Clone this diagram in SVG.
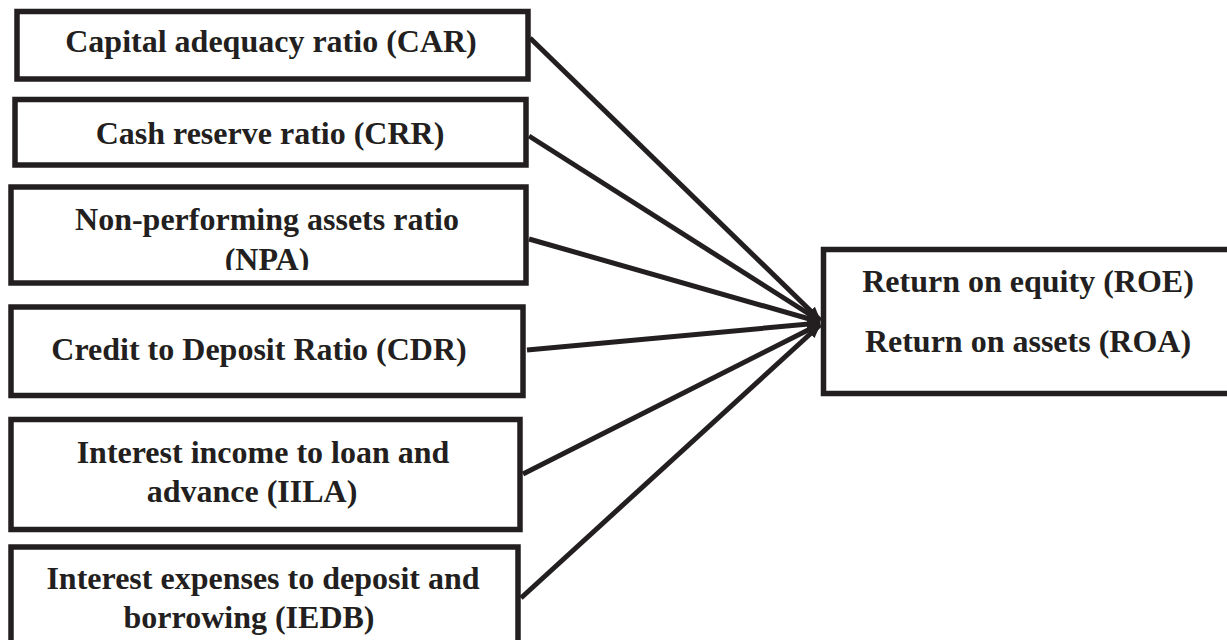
<svg xmlns="http://www.w3.org/2000/svg" width="1227" height="640" viewBox="0 0 1227 640">
  <style>
    .box { fill: #ffffff; stroke: #231f20; stroke-width: 5.5; }
    .lbl { font-family: "Liberation Serif", "Times New Roman", serif; font-weight: bold; font-size: 32px; fill: #231f20; text-anchor: middle; }
    .conn { stroke: #231f20; stroke-width: 5; fill: none; marker-end: url(#arrow); }
  </style>
  <defs>
    <marker id="arrow" markerUnits="userSpaceOnUse" markerWidth="14" markerHeight="12" refX="13" refY="6" orient="auto">
      <path d="M0,0 L14,6 L0,12 z" fill="#231f20"/>
    </marker>
    <clipPath id="clipNPA">
      <rect x="0" y="190" width="540" height="80"/>
    </clipPath>
  </defs>
  <rect width="1227" height="640" fill="#ffffff"/>

  <g id="connectors">
    <line class="conn" x1="530" y1="38" x2="820" y2="320"/>
    <line class="conn" x1="529" y1="136" x2="820" y2="321"/>
    <line class="conn" x1="529" y1="239" x2="820" y2="322"/>
    <line class="conn" x1="527" y1="350" x2="820" y2="323"/>
    <line class="conn" x1="523" y1="474" x2="820" y2="324"/>
    <line class="conn" x1="521" y1="598" x2="820" y2="325"/>
  </g>

  <g id="node-car">
    <rect class="box" x="17" y="11.5" width="511" height="67.5"/>
    <text class="lbl" x="271" y="52">Capital adequacy ratio (CAR)</text>
  </g>
  <g id="node-crr">
    <rect class="box" x="15" y="99.5" width="511" height="65.5"/>
    <text class="lbl" x="270" y="144">Cash reserve ratio (CRR)</text>
  </g>
  <g id="node-npa">
    <rect class="box" x="11" y="187" width="515" height="96"/>
    <g clip-path="url(#clipNPA)">
      <text class="lbl" x="267" y="230">Non-performing assets ratio</text>
      <text class="lbl" x="267" y="270">(NPA)</text>
    </g>
  </g>
  <g id="node-cdr">
    <rect class="box" x="11" y="307" width="512" height="88.5"/>
    <text class="lbl" x="259" y="360">Credit to Deposit Ratio (CDR)</text>
  </g>
  <g id="node-iila">
    <rect class="box" x="11" y="419.5" width="509" height="110"/>
    <text class="lbl" x="263" y="463">Interest income to loan and</text>
    <text class="lbl" x="252" y="502">advance (IILA)</text>
  </g>
  <g id="node-iedb">
    <rect class="box" x="11" y="547" width="507" height="120"/>
    <text class="lbl" x="263" y="589">Interest expenses to deposit and</text>
    <text class="lbl" x="249" y="628">borrowing (IEDB)</text>
  </g>
  <g id="node-roe-roa">
    <rect class="box" x="823.5" y="249.5" width="410" height="144"/>
    <text class="lbl" x="1028" y="292">Return on equity (ROE)</text>
    <text class="lbl" x="1028" y="352">Return on assets (ROA)</text>
  </g>
</svg>
